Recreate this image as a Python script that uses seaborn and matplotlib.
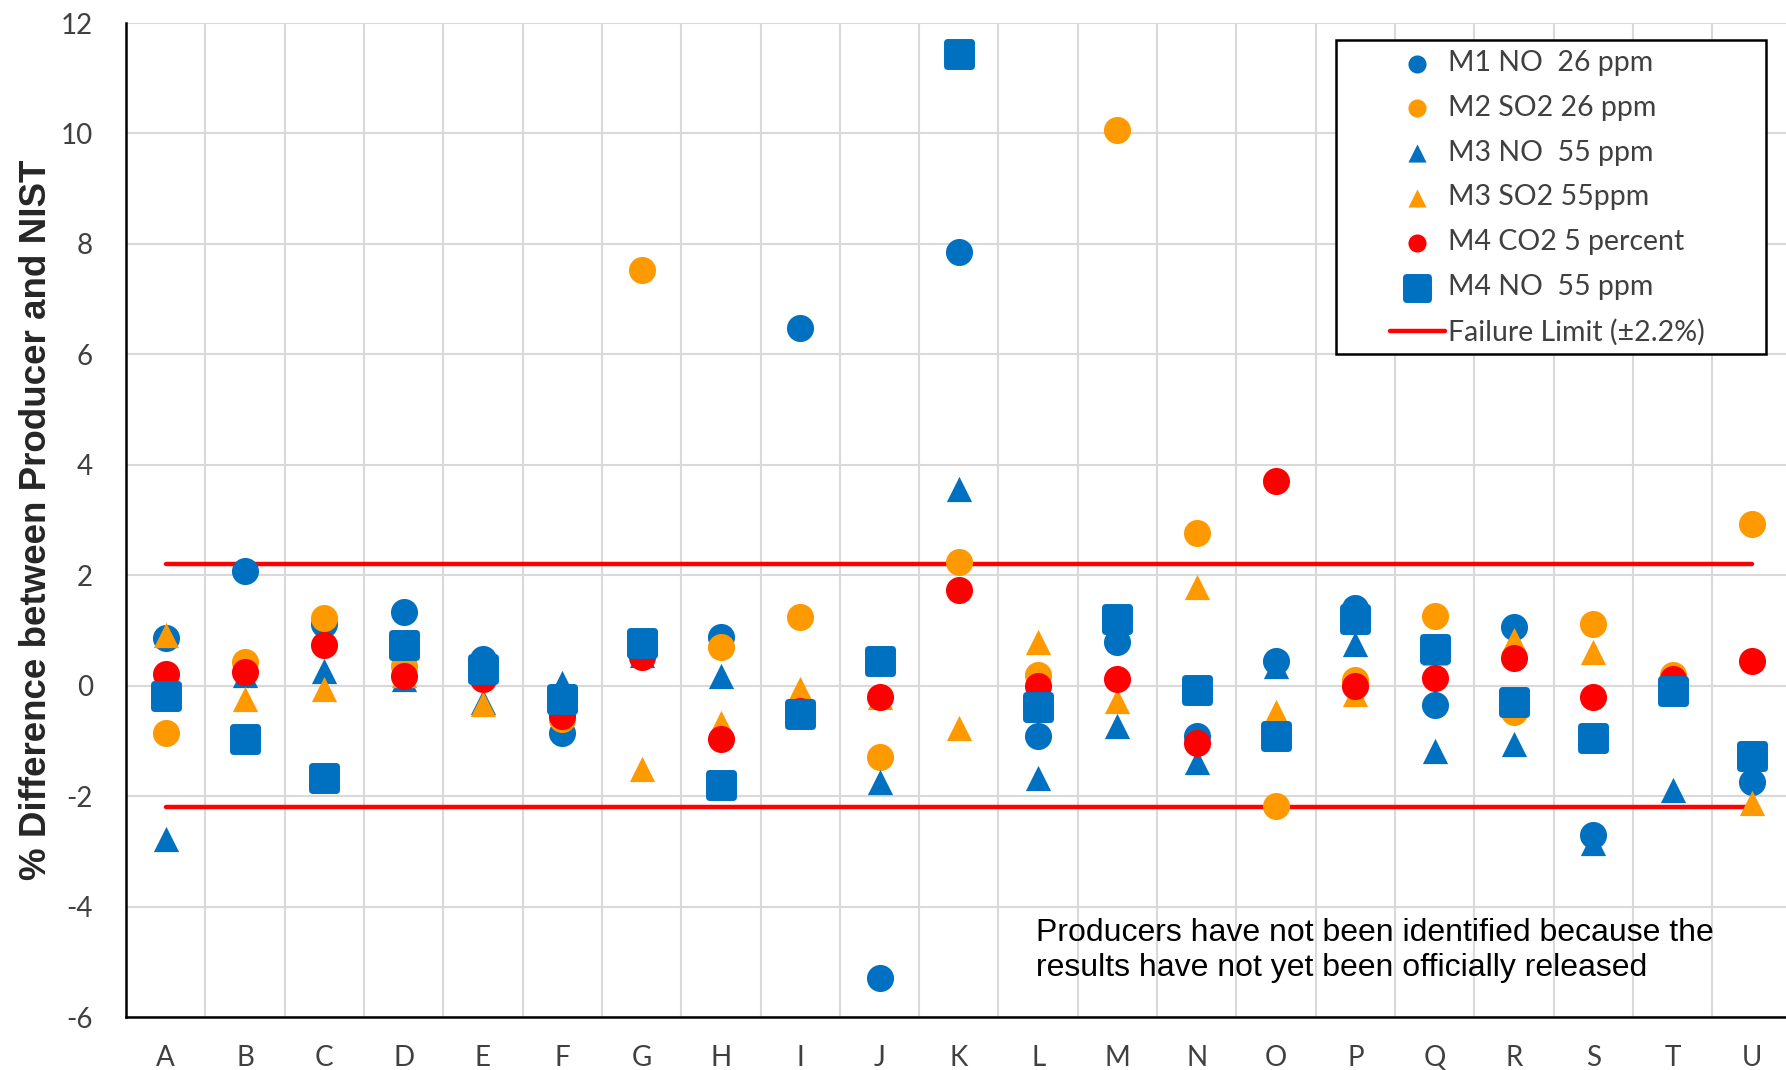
import matplotlib
matplotlib.use("Agg")
import matplotlib.pyplot as plt
from matplotlib.markers import MarkerStyle
from matplotlib.patches import Rectangle
import numpy as np
import pandas as pd
import seaborn as sns

producers = list("ABCDEFGHIJKLMNOPQRSTU")

m1_no_26 = [0.86, 2.08, 1.12, 1.33, 0.48, -0.85, 0.65, 0.88, 6.47, -5.30, 7.85,
            -0.91, 0.80, -0.91, 0.44, 1.40, -0.35, 1.06, -2.70, 0.00, -1.75]
m2_so2_26 = [-0.85, 0.43, 1.22, 0.36, 0.30, -0.60, 7.52, 0.70, 1.25, -1.30, 2.24,
             0.20, 10.07, 2.76, -2.17, 0.10, 1.27, -0.48, 1.12, 0.20, 2.93]
m3_no_55 = [-2.78, 0.20, 0.27, 0.12, -0.30, 0.05, 0.55, 0.18, -0.45, -1.75, 3.57,
            -1.67, -0.73, -1.39, 0.35, 0.76, -1.18, -1.06, -2.85, -1.88, -1.30]
m3_so2_55 = [0.91, -0.24, -0.06, 0.20, -0.33, -0.50, -1.51, -0.67, -0.06, -0.20, -0.76,
             0.79, -0.27, 1.79, -0.48, -0.15, 0.60, 0.82, 0.61, 0.10, -2.12]
m4_co2_5 = [0.21, 0.25, 0.74, 0.18, 0.12, -0.55, 0.52, -0.97, -0.45, -0.21, 1.73,
            -0.01, 0.13, -1.03, 3.70, 0.00, 0.14, 0.50, -0.21, 0.12, 0.44]
m4_no_55 = [-0.19, -0.97, -1.68, 0.73, 0.30, -0.24, 0.78, -1.80, -0.51, 0.45, 11.43,
            -0.39, 1.20, -0.07, -0.91, 1.21, 0.67, -0.30, -0.95, -0.09, -1.27]

failure_limit = 2.2

series = [
    ("M1 NO  26 ppm", m1_no_26, "#0070C0", "o", 380),
    ("M2 SO2 26 ppm", m2_so2_26, "#FF9900", "o", 380),
    ("M3 NO  55 ppm", m3_no_55, "#0070C0", "^", 330),
    ("M3 SO2 55ppm", m3_so2_55, "#FF9900", "^", 330),
    ("M4 CO2 5 percent", m4_co2_5, "#FF0000", "o", 380),
    ("M4 NO  55 ppm", m4_no_55, "#0070C0", "s", 300),
]

sns.set_style("white")
plt.rcParams["font.family"] = ["Lato", "DejaVu Sans"]
plt.rcParams["axes.unicode_minus"] = False

fig = plt.figure(figsize=(17.86, 10.70), dpi=100)
ax = fig.add_axes([0.0706, 0.0495, 0.9294, 0.929])

for label, vals, color, mk, size in series:
    df = pd.DataFrame({"producer": producers, "value": vals})
    if mk == "s":
        m = MarkerStyle("s", joinstyle="round")
        sns.scatterplot(data=df, x="producer", y="value", ax=ax, marker=m, s=size,
                        color=color, edgecolor=color, linewidth=5, label=label, zorder=3)
    else:
        sns.scatterplot(data=df, x="producer", y="value", ax=ax, marker=mk, s=size,
                        color=color, edgecolor=color, linewidth=0, label=label, zorder=3)

ax.hlines([failure_limit, -failure_limit], 0, len(producers) - 1, color="#FF0000",
          linewidth=3.2, zorder=2, capstyle="round")
ax.plot([], [], color="#FF0000", linewidth=3.2, label="Failure Limit (\u00b12.2%)")

ax.set_xlim(-0.5, 20.43)
ax.set_ylim(-6, 12)
ax.set_yticks(np.arange(-6, 13, 2))
ax.set_xticks(np.arange(-0.5, 20.5, 1), minor=True)
ax.grid(False)
ax.grid(True, which="minor", axis="x", color="#D9D9D9", linewidth=1.5)
ax.grid(True, which="major", axis="y", color="#D9D9D9", linewidth=1.5)
ax.set_axisbelow(True)
ax.tick_params(axis="both", which="both", length=0, labelsize=20, labelcolor="#404040")
ax.tick_params(axis="x", pad=20)
ax.tick_params(axis="y", pad=24)

for side in ["top", "right"]:
    ax.spines[side].set_visible(False)
for side in ["left", "bottom"]:
    ax.spines[side].set_color("black")
    ax.spines[side].set_linewidth(1.8)

ax.set_xlabel("")
ax.set_ylabel("% Difference between Producer and NIST", fontsize=26.5, fontweight="bold",
              family=["Liberation Sans"], labelpad=5)

ax.text(10.97, -4.2, "Producers have not been identified because the\n"
        "results have not yet been officially released",
        fontsize=23, family=["Liberation Sans"],
        color="black", va="top", ha="left", linespacing=1.24)

# legend without frame, frame drawn separately to match the wide box
leg = ax.legend(loc="upper left", bbox_to_anchor=(0.7612, 0.9728), fontsize=20.5,
                frameon=False, borderpad=0, labelspacing=0.66, handlelength=1.93,
                handletextpad=0.12, borderaxespad=0)
for h in leg.legend_handles:
    if hasattr(h, "set_sizes"):
        n = len(h.get_paths()[0].vertices)
        if n in (5, 6):
            h.set_sizes([260])
        else:
            h.set_sizes([170])
for t in leg.get_texts():
    t.set_color("#404040")

box = Rectangle((0.729, 0.667), 0.2587, 0.316, transform=ax.transAxes, fill=True,
                facecolor="white", edgecolor="black", linewidth=1.8, zorder=4)
ax.add_patch(box)
leg.set_zorder(5)

fig.savefig("out.png", dpi=100, facecolor="white")
